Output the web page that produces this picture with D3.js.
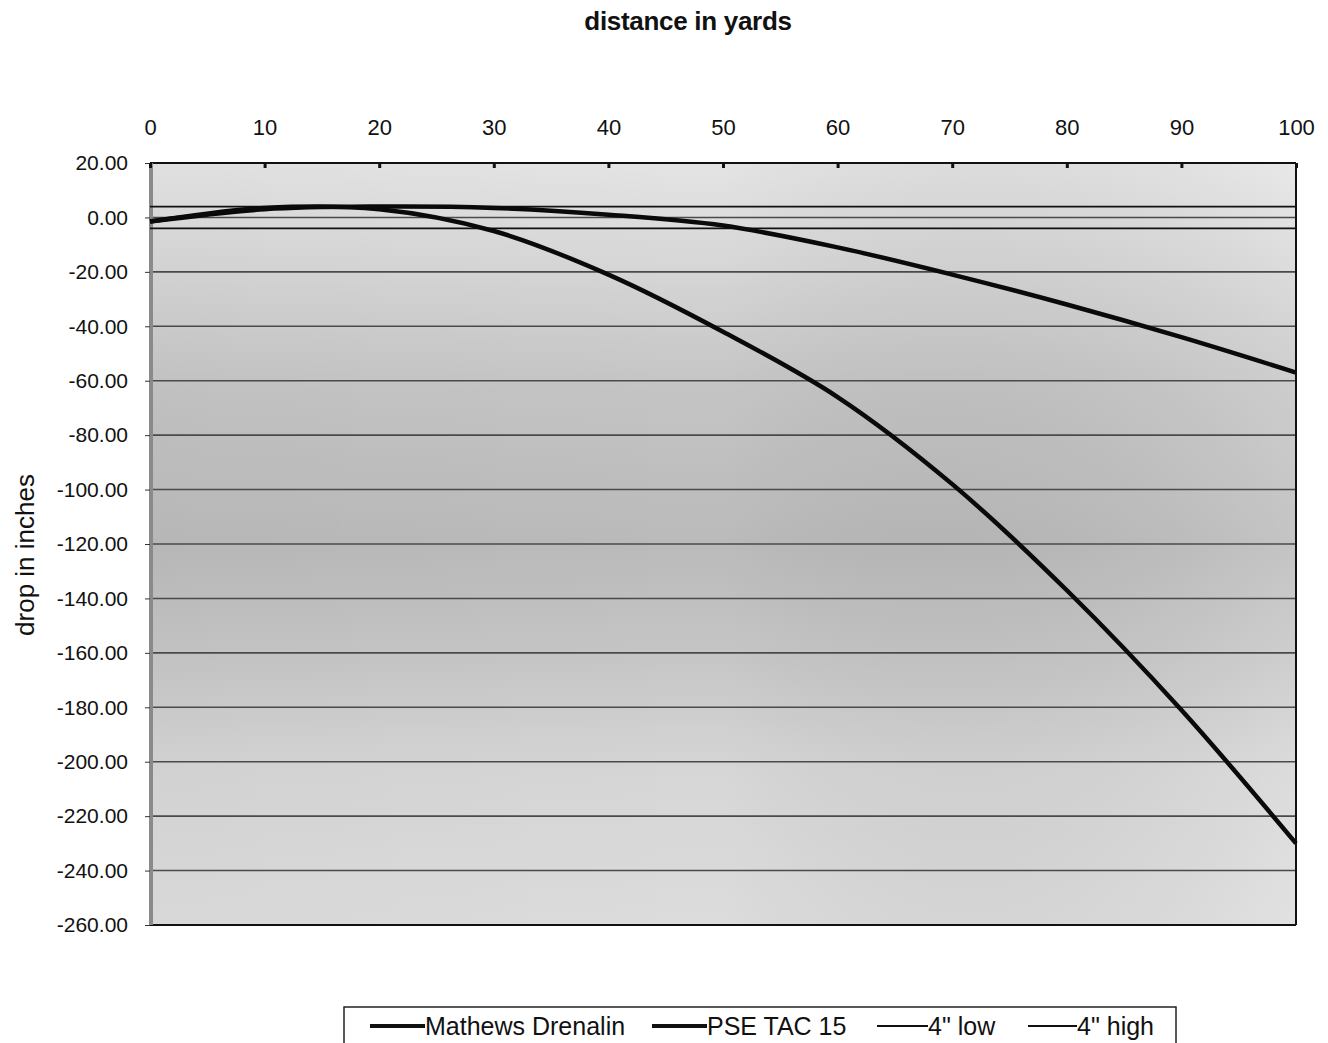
<!DOCTYPE html>
<html>
<head>
<meta charset="utf-8">
<script src="https://cdn.jsdelivr.net/npm/d3@7/dist/d3.min.js"></script>
<style>
  html, body { margin: 0; padding: 0; background: #ffffff; }
  svg { display: block; font-family: Arial, "Liberation Sans", sans-serif; }
</style>
</head>
<body>
<svg id="chart" width="1328" height="1043"></svg>
<script>
// ---- data ----
const yards = [0, 10, 20, 30, 40, 50, 60, 70, 80, 90, 100];
const mathewsDrenalin = [-1.5, 3.0, 4.0, 3.5, 1.0, -3.0, -11.0, -21.0, -32.0, -44.0, -57.0];
const pseTac15 = [-1.5, 3.5, 3.0, -5.0, -21.0, -42.0, -66.0, -98.0, -137.0, -181.0, -230.0];
const lowLine = [-4, -4, -4, -4, -4, -4, -4, -4, -4, -4, -4];
const highLine = [4, 4, 4, 4, 4, 4, 4, 4, 4, 4, 4];
const yTicks = [20, 0, -20, -40, -60, -80, -100, -120, -140, -160, -180, -200, -220, -240, -260];
const xTicks = [0, 10, 20, 30, 40, 50, 60, 70, 80, 90, 100];
const seriesNames = ["Mathews Drenalin", "PSE TAC 15", "4\" low", "4\" high"];

// ---- layout ----
const svg = d3.select("#chart");
const L = 150, R = 1296, T = 163, B = 925;
const x = d3.scaleLinear().domain([0, 100]).range([L, R]);
const y = d3.scaleLinear().domain([20, -260]).range([T, B]);

// background gradient
const defs = svg.append("defs");
const lgd = defs.append("linearGradient").attr("id", "bgv")
  .attr("x1", 0).attr("y1", 0).attr("x2", 0).attr("y2", 1);
[[0, "#e4e4e4"], [0.12, "#d8d8d8"], [0.3, "#c4c4c4"], [0.5, "#bababa"], [0.65, "#c6c6c6"], [0.8, "#d6d6d6"], [1, "#dcdcdc"]]
  .forEach(s => lgd.append("stop").attr("offset", s[0]).attr("stop-color", s[1]));
const hg = defs.append("linearGradient").attr("id", "bgh")
  .attr("x1", 0).attr("y1", 0).attr("x2", 1).attr("y2", 0);
hg.append("stop").attr("offset", 0).attr("stop-color", "#000").attr("stop-opacity", 0.02);
hg.append("stop").attr("offset", 0.5).attr("stop-color", "#000").attr("stop-opacity", 0.0);
hg.append("stop").attr("offset", 1).attr("stop-color", "#fff").attr("stop-opacity", 0.15);

svg.append("rect").attr("x", L).attr("y", T).attr("width", R - L).attr("height", B - T)
  .attr("fill", "url(#bgv)");
svg.append("rect").attr("x", L).attr("y", T).attr("width", R - L).attr("height", B - T)
  .attr("fill", "url(#bgh)");

// gridlines
svg.append("g").selectAll("line").data(yTicks.slice(1, -1)).join("line")
  .attr("x1", L).attr("x2", R)
  .attr("y1", d => y(d)).attr("y2", d => y(d))
  .attr("stroke", "#4a4a4a").attr("stroke-width", 1.6);

// plot border
svg.append("line").attr("x1", L).attr("x2", R).attr("y1", T).attr("y2", T).attr("stroke", "#111").attr("stroke-width", 2);
svg.append("line").attr("x1", L).attr("x2", R).attr("y1", B).attr("y2", B).attr("stroke", "#111").attr("stroke-width", 2);
svg.append("line").attr("x1", R).attr("x2", R).attr("y1", T).attr("y2", B).attr("stroke", "#111").attr("stroke-width", 2);
svg.append("line").attr("x1", L + 1).attr("x2", L + 1).attr("y1", T).attr("y2", B).attr("stroke", "#8a8a8a").attr("stroke-width", 4);

// axes
const fmt = d => d3.format(".2f")(d).replace("\u2212", "-");
const yAxis = d3.axisLeft(y).tickValues(yTicks).tickFormat(fmt).tickSize(5).tickSizeOuter(0);
const gy = svg.append("g").attr("transform", `translate(${L},0)`).call(yAxis);
gy.select(".domain").remove();
gy.selectAll(".tick line").attr("stroke", "#333");
gy.selectAll(".tick text").attr("x", -22).attr("font-size", 21).attr("fill", "#111")
  .attr("font-family", "Arial, 'Liberation Sans', sans-serif");

const xAxis = d3.axisTop(x).tickValues(xTicks).tickSize(-5).tickSizeOuter(0);
const gx = svg.append("g").attr("transform", `translate(0,${T})`).call(xAxis);
gx.select(".domain").remove();
gx.selectAll(".tick line").attr("stroke", "#111").attr("stroke-width", 3);
gx.selectAll(".tick text").attr("y", -28).attr("font-size", 22).attr("fill", "#111")
  .attr("font-family", "Arial, 'Liberation Sans', sans-serif");

// series lines
const line = d3.line().x((d, i) => x(yards[i])).y(d => y(d)).curve(d3.curveCatmullRom.alpha(0.5));
const seriesData = [
  { vals: highLine, w: 1.8, c: "#111" },
  { vals: lowLine, w: 1.8, c: "#111" },
  { vals: mathewsDrenalin, w: 4.5, c: "#0a0a0a" },
  { vals: pseTac15, w: 4.5, c: "#0a0a0a" }
];
svg.append("g").selectAll("path").data(seriesData).join("path")
  .attr("d", d => line(d.vals))
  .attr("fill", "none").attr("stroke", d => d.c).attr("stroke-width", d => d.w)
  .attr("stroke-linejoin", "round");

// titles
svg.append("text").attr("x", 688).attr("y", 30).attr("text-anchor", "middle")
  .attr("font-size", 26).attr("font-weight", "bold").attr("letter-spacing", -0.3).attr("fill", "#111")
  .text("distance in yards");
svg.append("text").attr("transform", "translate(34,555) rotate(-90)").attr("text-anchor", "middle")
  .attr("font-size", 26).attr("fill", "#111").text("drop in inches");

// legend
const lg = svg.append("g");
lg.append("rect").attr("x", 344).attr("y", 1007).attr("width", 832).attr("height", 50)
  .attr("fill", "#fff").attr("stroke", "#222").attr("stroke-width", 1.5);
const legendItems = [
  { name: seriesNames[0], x0: 370, len: 55, w: 4 },
  { name: seriesNames[1], x0: 652, len: 55, w: 4 },
  { name: seriesNames[2], x0: 877, len: 51, w: 1.8 },
  { name: seriesNames[3], x0: 1028, len: 49, w: 1.8 }
];
const li = lg.selectAll("g.item").data(legendItems).join("g").attr("class", "item");
li.append("line").attr("x1", d => d.x0).attr("x2", d => d.x0 + d.len)
  .attr("y1", 1026).attr("y2", 1026).attr("stroke", "#111").attr("stroke-width", d => d.w);
li.append("text").attr("x", d => d.x0 + d.len).attr("y", 1035)
  .attr("font-size", 25).attr("letter-spacing", 0).attr("fill", "#111").text(d => d.name);
</script>
</body>
</html>
